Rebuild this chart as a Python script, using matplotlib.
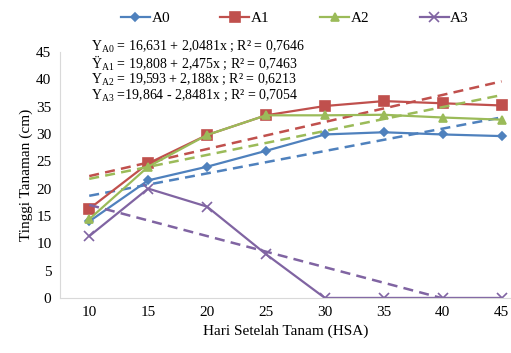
import numpy as np
import matplotlib
matplotlib.use("Agg")
import matplotlib.pyplot as plt

plt.rcParams['font.family'] = ['Liberation Serif', 'DejaVu Serif']
plt.rcParams['mathtext.fontset'] = 'custom'
plt.rcParams['mathtext.rm'] = 'Liberation Serif'

# data
hsa = [10, 15, 20, 25, 30, 35, 40, 45]
a0 = [14.0, 21.5, 24.0, 26.9, 29.9, 30.3, 29.9, 29.6]
a1 = [16.3, 24.6, 29.8, 33.4, 35.1, 36.0, 35.6, 35.2]
a2 = [14.4, 24.0, 29.8, 33.4, 33.4, 33.5, 33.0, 32.6]
a3 = [11.3, 20.0, 16.7, 8.0, 0, 0, 0, 0]

# regression coefficients printed on the chart (x = 1..8)
intercepts = [16.631, 19.808, 19.593, 19.864]
slopes = [2.0481, 2.475, 2.188, -2.8481]

names = ["A0", "A1", "A2", "A3"]
colors = ["#4F81BD", "#C0504D", "#9BBB59", "#8064A2"]
markers = ["D", "s", "^", "x"]
msizes = [4.5, 6.5, 6, 6.5]
equations = [
    r"$\mathrm{Y}_{\mathrm{A0}}$ = 16,631 + 2,0481x ; R² = 0,7646",
    r"Ÿ$_{\mathrm{A1}}$ = 19,808 + 2,475x ; R² = 0,7463",
    r"$\mathrm{Y}_{\mathrm{A2}}$ = 19,593 + 2,188x ; R² = 0,6213",
    r"$\mathrm{Y}_{\mathrm{A3}}$ =19,864 - 2,8481x ; R² = 0,7054",
]

fig = plt.figure(figsize=(5.11, 3.53), dpi=100)
ax = fig.add_axes([0.117, 0.156, 0.883, 0.697])

idx = np.arange(1, len(hsa) + 1)
for series, name, c, m, ms, b0, b1 in zip([a0, a1, a2, a3], names, colors, markers,
                                          msizes, intercepts, slopes):
    ax.plot(hsa, series, color=c, marker=m, markersize=ms, lw=1.6,
            markeredgewidth=1.2, label=name)
    ax.plot(hsa, b0 + b1 * idx, color=c, lw=1.8, ls=(0, (4, 2.5)))

ax.set_xlim(7.5, 45.8)
ax.set_ylim(0, 45)
ax.set_xticks(hsa)
ax.set_yticks(range(0, 46, 5))
ax.tick_params(length=0, labelsize=11, pad=6)
for s in ["top", "right"]:
    ax.spines[s].set_visible(False)
for s in ["left", "bottom"]:
    ax.spines[s].set_color("#d9d9d9")
ax.set_xlabel("Hari Setelah Tanam (HSA)", fontsize=11, labelpad=4)
ax.set_ylabel("Tinggi Tanaman (cm)", fontsize=11, labelpad=2)

fig.legend(*ax.get_legend_handles_labels(), loc="center",
           bbox_to_anchor=(0.577, 0.948), ncol=4, frameon=False,
           fontsize=11, columnspacing=3.3, handlelength=1.9, handletextpad=0.1,
           borderaxespad=0)

for i, eq in enumerate(equations):
    fig.text(0.178, 0.869 - i * 0.046, eq, fontsize=10, va="center")

plt.savefig("out.png", dpi=100)
